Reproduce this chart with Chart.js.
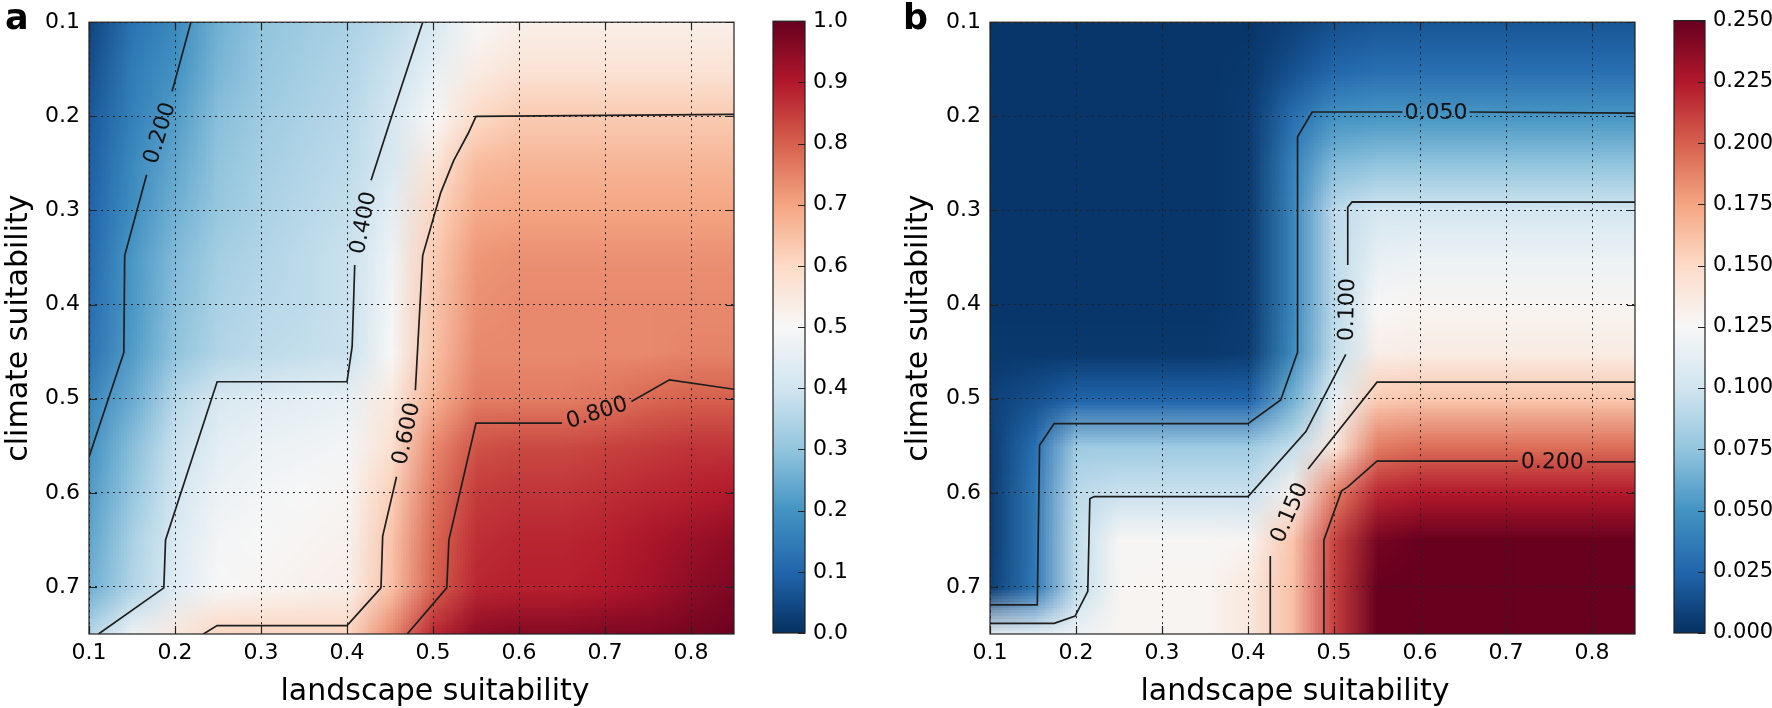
<!DOCTYPE html>
<html>
<head>
<meta charset="utf-8">
<script src="https://cdn.jsdelivr.net/npm/chart.js@4.4.1/dist/chart.umd.min.js"></script>
<style>
  body { margin: 0; background: #fff; width: 1772px; height: 708px; overflow: hidden; position: relative; font-family: "DejaVu Sans", sans-serif; }
  canvas { position: absolute; top: 0; }
  .xt { position: absolute; top: 675px; width: 600px; text-align: center; font-size: 30px; line-height: 30px; color: #000; }
  .pl { position: absolute; top: 0; font-weight: bold; font-size: 35px; line-height: 35px; color: #000; }
</style>
</head>
<body>
<canvas id="mapA" width="760" height="708" style="left:0"></canvas>
<canvas id="barA" width="140" height="708" style="left:760px"></canvas>
<canvas id="mapB" width="760" height="708" style="left:900px"></canvas>
<canvas id="barB" width="112" height="708" style="left:1660px"></canvas>
<div class="pl" style="left:5px">a</div>
<div class="pl" style="left:903px">b</div>
<div class="xt" style="left:135px">landscape suitability</div>
<div class="xt" style="left:995px">landscape suitability</div>

<script>
const FONT = '"DejaVu Sans", sans-serif';

// grid of the two surfaces (cell centres)
const landscape = [0.1, 0.15, 0.2, 0.25, 0.3, 0.35, 0.4, 0.45, 0.5, 0.55, 0.6, 0.65, 0.7, 0.75, 0.8, 0.85];
const climate = [0.1, 0.15, 0.2, 0.25, 0.3, 0.35, 0.4, 0.45, 0.5, 0.55, 0.6, 0.65, 0.7, 0.75];

// panel a values, one row per climate value
const gridA = [
  [0.04, 0.13, 0.18, 0.26, 0.30, 0.32, 0.34, 0.37, 0.42, 0.50, 0.53, 0.53, 0.53, 0.53, 0.53, 0.53],
  [0.06, 0.15, 0.20, 0.27, 0.31, 0.33, 0.35, 0.39, 0.46, 0.54, 0.57, 0.57, 0.57, 0.57, 0.57, 0.57],
  [0.08, 0.16, 0.22, 0.29, 0.32, 0.34, 0.36, 0.41, 0.50, 0.60, 0.63, 0.63, 0.63, 0.63, 0.63, 0.63],
  [0.09, 0.18, 0.24, 0.30, 0.33, 0.35, 0.37, 0.42, 0.56, 0.66, 0.67, 0.67, 0.67, 0.67, 0.67, 0.67],
  [0.10, 0.19, 0.26, 0.31, 0.34, 0.36, 0.38, 0.45, 0.61, 0.69, 0.70, 0.70, 0.70, 0.70, 0.70, 0.70],
  [0.11, 0.21, 0.28, 0.33, 0.35, 0.37, 0.39, 0.48, 0.63, 0.72, 0.73, 0.73, 0.73, 0.73, 0.73, 0.73],
  [0.12, 0.21, 0.29, 0.34, 0.36, 0.37, 0.39, 0.49, 0.64, 0.73, 0.74, 0.74, 0.74, 0.74, 0.74, 0.74],
  [0.13, 0.22, 0.30, 0.35, 0.37, 0.38, 0.39, 0.50, 0.65, 0.74, 0.74, 0.74, 0.74, 0.74, 0.75, 0.75],
  [0.17, 0.25, 0.36, 0.42, 0.44, 0.45, 0.46, 0.55, 0.68, 0.76, 0.76, 0.76, 0.77, 0.79, 0.80, 0.80],
  [0.20, 0.29, 0.39, 0.45, 0.47, 0.48, 0.49, 0.58, 0.74, 0.82, 0.83, 0.83, 0.84, 0.85, 0.86, 0.86],
  [0.22, 0.31, 0.41, 0.47, 0.49, 0.50, 0.51, 0.62, 0.77, 0.85, 0.86, 0.86, 0.87, 0.88, 0.89, 0.90],
  [0.24, 0.34, 0.43, 0.49, 0.50, 0.51, 0.52, 0.64, 0.79, 0.87, 0.88, 0.88, 0.89, 0.91, 0.93, 0.95],
  [0.26, 0.35, 0.44, 0.50, 0.51, 0.52, 0.53, 0.65, 0.80, 0.88, 0.89, 0.89, 0.90, 0.92, 0.95, 0.97],
  [0.36, 0.48, 0.55, 0.61, 0.61, 0.61, 0.61, 0.74, 0.88, 0.95, 0.96, 0.96, 0.97, 0.97, 0.98, 0.99]
];

// panel b values
const gridB = [
  [0.003, 0.003, 0.003, 0.003, 0.003, 0.003, 0.003, 0.008, 0.015, 0.018, 0.018, 0.018, 0.018, 0.018, 0.018, 0.018],
  [0.003, 0.003, 0.003, 0.003, 0.003, 0.003, 0.004, 0.015, 0.026, 0.030, 0.030, 0.030, 0.030, 0.030, 0.030, 0.030],
  [0.003, 0.003, 0.003, 0.003, 0.003, 0.003, 0.005, 0.030, 0.050, 0.052, 0.052, 0.052, 0.052, 0.052, 0.052, 0.052],
  [0.003, 0.003, 0.003, 0.003, 0.003, 0.003, 0.005, 0.040, 0.070, 0.075, 0.075, 0.075, 0.075, 0.075, 0.075, 0.075],
  [0.003, 0.003, 0.003, 0.003, 0.003, 0.003, 0.005, 0.042, 0.093, 0.103, 0.103, 0.103, 0.103, 0.103, 0.103, 0.103],
  [0.003, 0.003, 0.003, 0.003, 0.003, 0.003, 0.005, 0.042, 0.093, 0.115, 0.118, 0.118, 0.118, 0.118, 0.118, 0.118],
  [0.003, 0.003, 0.003, 0.003, 0.003, 0.003, 0.005, 0.042, 0.093, 0.125, 0.128, 0.128, 0.128, 0.128, 0.128, 0.128],
  [0.004, 0.004, 0.004, 0.004, 0.004, 0.004, 0.006, 0.045, 0.095, 0.133, 0.135, 0.135, 0.135, 0.135, 0.135, 0.135],
  [0.008, 0.015, 0.025, 0.025, 0.025, 0.025, 0.025, 0.065, 0.115, 0.158, 0.160, 0.160, 0.160, 0.160, 0.160, 0.160],
  [0.006, 0.030, 0.080, 0.080, 0.080, 0.080, 0.080, 0.095, 0.140, 0.190, 0.195, 0.195, 0.195, 0.195, 0.195, 0.195],
  [0.006, 0.035, 0.092, 0.098, 0.098, 0.098, 0.098, 0.130, 0.190, 0.220, 0.225, 0.225, 0.225, 0.225, 0.225, 0.225],
  [0.006, 0.035, 0.095, 0.126, 0.126, 0.126, 0.128, 0.160, 0.210, 0.245, 0.250, 0.250, 0.250, 0.250, 0.250, 0.250],
  [0.008, 0.035, 0.095, 0.127, 0.128, 0.128, 0.138, 0.162, 0.212, 0.250, 0.250, 0.250, 0.250, 0.250, 0.250, 0.250],
  [0.115, 0.115, 0.120, 0.128, 0.128, 0.128, 0.138, 0.162, 0.212, 0.250, 0.250, 0.250, 0.250, 0.250, 0.250, 0.250]
];

// contour lines [landscape, climate], split where the label sits
const a200 = [
  [[0.2185, 0.1], [0.1966, 0.1735]],
  [[0.167, 0.262], [0.1415, 0.348], [0.1405, 0.451], [0.1, 0.562]]
];
const a400 = [
  [[0.111, 0.75], [0.187, 0.701], [0.189, 0.65], [0.249, 0.482], [0.4, 0.482], [0.406, 0.4445], [0.409, 0.358]],
  [[0.428, 0.268], [0.452, 0.2], [0.47, 0.15], [0.488, 0.1]]
];
const a600 = [
  [[0.233, 0.75], [0.249, 0.741], [0.4, 0.741], [0.4395, 0.701], [0.4415, 0.646], [0.4576, 0.583]],
  [[0.4795, 0.491], [0.488, 0.348], [0.509, 0.281], [0.524, 0.247], [0.541, 0.218], [0.55, 0.2], [0.85, 0.198]]
];
const a800 = [
  [[0.47, 0.75], [0.516, 0.701], [0.5185, 0.65], [0.55, 0.526], [0.65, 0.526]],
  [[0.7307, 0.503], [0.775, 0.48], [0.85, 0.49]]
];
const b050 = [
  [[0.1, 0.719], [0.155, 0.719], [0.1576, 0.5496], [0.1746, 0.5265], [0.4, 0.5265], [0.438, 0.5013],
   [0.4576, 0.4508], [0.4576, 0.2218], [0.4746, 0.1954], [0.5795, 0.1954]],
  [[0.6576, 0.1954], [0.85, 0.1966]]
];
const b100 = [
  [[0.1, 0.7387], [0.1746, 0.7387], [0.199, 0.731], [0.2137, 0.7046], [0.2161, 0.6063], [0.221, 0.604],
   [0.4, 0.604], [0.4673, 0.5349], [0.5137, 0.4529]],
  [[0.516, 0.358], [0.516, 0.2966], [0.521, 0.291], [0.85, 0.2912]]
];
const b150 = [
  [[0.4259, 0.75], [0.4259, 0.667]],
  [[0.4698, 0.5748], [0.55, 0.4824], [0.85, 0.4824]]
];
const b200 = [
  [[0.4883, 0.75], [0.4883, 0.65], [0.5088, 0.5979], [0.516, 0.5937], [0.55, 0.5664], [0.7137, 0.5664]],
  [[0.7941, 0.5672], [0.85, 0.5672]]
];

const xTicks = [0.1, 0.2, 0.3, 0.4, 0.5, 0.6, 0.7, 0.8];
const yTicks = [0.1, 0.2, 0.3, 0.4, 0.5, 0.6, 0.7];
const barTicksA = [0, 0.1, 0.2, 0.3, 0.4, 0.5, 0.6, 0.7, 0.8, 0.9, 1.0];
const barTicksB = [0, 0.025, 0.05, 0.075, 0.1, 0.125, 0.15, 0.175, 0.2, 0.225, 0.25];

// RdBu reversed
const RDBU_R = ['#053061', '#2166ac', '#4393c3', '#92c5de', '#d1e5f0', '#f7f7f7',
                '#fddbc7', '#f4a582', '#d6604d', '#b2182b', '#67001f'];

Chart.defaults.font.family = FONT;
Chart.defaults.color = '#000';

function hexRgb(h) {
  return [1, 3, 5].map(i => parseInt(h.substr(i, 2), 16));
}

function cmap(t) {
  const n = RDBU_R.length - 1;
  t = Math.min(1, Math.max(0, t)) * n;
  const i = Math.min(Math.floor(t), n - 1), f = t - i;
  const a = hexRgb(RDBU_R[i]), b = hexRgb(RDBU_R[i + 1]);
  return a.map((v, k) => Math.round(v + (b[k] - v) * f));
}

function heatLayer(grid, vmax) {
  return {
    id: 'heat',
    beforeDraw(chart) {
      const {ctx, chartArea: ca, scales: {x, y}} = chart;
      const nx = landscape.length, ny = climate.length;
      const off = document.createElement('canvas');
      off.width = nx; off.height = ny;
      const octx = off.getContext('2d');
      const img = octx.createImageData(nx, ny);
      grid.forEach((row, j) => row.forEach((v, i) => {
        const c = cmap(v / vmax), k = (j * nx + i) * 4;
        img.data[k] = c[0]; img.data[k + 1] = c[1]; img.data[k + 2] = c[2]; img.data[k + 3] = 255;
      }));
      octx.putImageData(img, 0, 0);
      const hx = (landscape[1] - landscape[0]) / 2, hy = (climate[1] - climate[0]) / 2;
      const x0 = x.getPixelForValue(landscape[0] - hx), x1 = x.getPixelForValue(landscape[nx - 1] + hx);
      const y0 = y.getPixelForValue(climate[0] - hy), y1 = y.getPixelForValue(climate[ny - 1] + hy);
      ctx.save();
      ctx.beginPath();
      ctx.rect(ca.left, ca.top, ca.right - ca.left, ca.bottom - ca.top);
      ctx.clip();
      ctx.imageSmoothingEnabled = true;
      ctx.imageSmoothingQuality = 'low';
      ctx.drawImage(off, x0, y0, x1 - x0, y1 - y0);
      ctx.restore();
    }
  };
}

const frameLayer = {
  id: 'frame',
  afterDraw(chart) {
    const {ctx, chartArea: ca, scales: {x, y}} = chart;
    const tl = 8;
    ctx.save();
    ctx.strokeStyle = '#222';
    ctx.lineWidth = 1.2;
    ctx.beginPath();
    xTicks.forEach(v => {
      const px = Math.round(x.getPixelForValue(v)) + 0.5;
      ctx.moveTo(px, ca.bottom); ctx.lineTo(px, ca.bottom - tl);
      ctx.moveTo(px, ca.top); ctx.lineTo(px, ca.top + tl);
    });
    yTicks.forEach(v => {
      const py = Math.round(y.getPixelForValue(v)) + 0.5;
      ctx.moveTo(ca.left, py); ctx.lineTo(ca.left + tl, py);
      ctx.moveTo(ca.right, py); ctx.lineTo(ca.right - tl, py);
    });
    ctx.stroke();
    ctx.strokeRect(ca.left, ca.top, ca.right - ca.left, ca.bottom - ca.top);
    ctx.restore();
  }
};

function labelLayer(contours) {
  return {
    id: 'clabels',
    afterDatasetsDraw(chart) {
      const {ctx, scales: {x, y}} = chart;
      ctx.save();
      ctx.font = '22px ' + FONT;
      ctx.fillStyle = '#111';
      ctx.textAlign = 'center';
      ctx.textBaseline = 'middle';
      contours.forEach(c => {
        for (let i = 0; i < c.parts.length - 1; ++i) {
          const p = c.parts[i][c.parts[i].length - 1], q = c.parts[i + 1][0];
          const px = x.getPixelForValue(p[0]), py = y.getPixelForValue(p[1]);
          const qx = x.getPixelForValue(q[0]), qy = y.getPixelForValue(q[1]);
          let ang = Math.atan2(qy - py, qx - px);
          if (ang > Math.PI / 2) ang -= Math.PI;
          if (ang < -Math.PI / 2) ang += Math.PI;
          ctx.save();
          ctx.translate((px + qx) / 2, (py + qy) / 2);
          ctx.rotate(ang);
          ctx.fillText(c.level, 0, 1);
          ctx.restore();
        }
      });
      ctx.restore();
    }
  };
}

function barLayer(vmax, ticks) {
  return {
    id: 'colorbar',
    beforeDraw(chart) {
      const {ctx, chartArea: ca, scales: {y}} = chart;
      const g = ctx.createLinearGradient(0, y.getPixelForValue(0), 0, y.getPixelForValue(vmax));
      RDBU_R.forEach((c, i) => g.addColorStop(i / (RDBU_R.length - 1), c));
      ctx.save();
      ctx.fillStyle = g;
      ctx.fillRect(ca.left, ca.top, ca.right - ca.left, ca.bottom - ca.top);
      ctx.restore();
    },
    afterDraw(chart) {
      const {ctx, chartArea: ca, scales: {y}} = chart;
      ctx.save();
      ctx.strokeStyle = '#222';
      ctx.lineWidth = 1.2;
      ctx.beginPath();
      ticks.forEach(v => {
        const py = Math.round(y.getPixelForValue(v)) + 0.5;
        ctx.moveTo(ca.right, py); ctx.lineTo(ca.right - 7, py);
      });
      ctx.stroke();
      ctx.strokeRect(ca.left, ca.top, ca.right - ca.left, ca.bottom - ca.top);
      ctx.restore();
    }
  };
}

function drawMap(id, grid, vmax, contours, axisWidth, padRight) {
  const datasets = [];
  contours.forEach(c => c.parts.forEach(part => {
    datasets.push({
      data: part.map(([lx, cy]) => ({x: lx, y: cy})),
      showLine: true,
      pointRadius: 0,
      borderColor: '#1e1e1e',
      borderWidth: 1.7
    });
  }));

  return new Chart(document.getElementById(id), {
    type: 'scatter',
    data: { datasets },
    options: {
      responsive: false,
      animation: false,
      events: [],
      devicePixelRatio: 1,
      layout: { padding: { top: 12, right: padRight, left: 0, bottom: 0 } },
      plugins: { legend: { display: false }, tooltip: { enabled: false } },
      scales: {
        x: {
          type: 'linear', min: 0.1, max: 0.85,
          afterBuildTicks: s => { s.ticks = xTicks.map(v => ({ value: v })); },
          afterFit: s => { s.height = 74; },
          ticks: { callback: v => v.toFixed(1), font: { size: 22 }, padding: 6, maxRotation: 0, autoSkip: false },
          grid: { color: '#222', lineWidth: 1, drawTicks: false },
          border: { display: false, dash: [2, 4] }
        },
        y: {
          type: 'linear', min: 0.1, max: 0.75, reverse: true,
          afterBuildTicks: s => { s.ticks = yTicks.map(v => ({ value: v })); },
          afterFit: s => { s.width = axisWidth; },
          ticks: { callback: v => v.toFixed(1), font: { size: 22 }, padding: 9, autoSkip: false },
          grid: { color: '#222', lineWidth: 1, drawTicks: false },
          border: { display: false, dash: [2, 4] },
          title: { display: true, text: 'climate suitability', font: { size: 30 }, padding: { top: 1, bottom: 0 } }
        }
      }
    },
    plugins: [heatLayer(grid, vmax), frameLayer, labelLayer(contours)]
  });
}

function drawBar(id, vmax, ticks, digits, axisWidth, padLeft, fontSize) {
  return new Chart(document.getElementById(id), {
    type: 'scatter',
    data: { datasets: [] },
    options: {
      responsive: false,
      animation: false,
      events: [],
      devicePixelRatio: 1,
      layout: { padding: { top: 12, bottom: 75, left: padLeft, right: 0 } },
      plugins: { legend: { display: false }, tooltip: { enabled: false } },
      scales: {
        x: { display: false, min: 0, max: 1 },
        y: {
          position: 'right', min: 0, max: vmax,
          afterBuildTicks: s => { s.ticks = ticks.map(v => ({ value: v })); },
          afterFit: s => { s.width = axisWidth; },
          ticks: { callback: v => v.toFixed(digits), font: { size: fontSize }, padding: 8, autoSkip: false },
          grid: { display: false, drawTicks: false },
          border: { display: false }
        }
      }
    },
    plugins: [barLayer(vmax, ticks)]
  });
}

drawMap('mapA', gridA, 1.0, [
  { level: '0.200', parts: a200 },
  { level: '0.400', parts: a400 },
  { level: '0.600', parts: a600 },
  { level: '0.800', parts: a800 }
], 89, 26);
drawBar('barA', 1.0, barTicksA, 1, 95, 13, 22);

drawMap('mapB', gridB, 0.25, [
  { level: '0.050', parts: b050 },
  { level: '0.100', parts: b100 },
  { level: '0.150', parts: b150 },
  { level: '0.200', parts: b200 }
], 90, 25);
drawBar('barB', 0.25, barTicksB, 3, 67, 14, 21);
</script>
</body>
</html>
